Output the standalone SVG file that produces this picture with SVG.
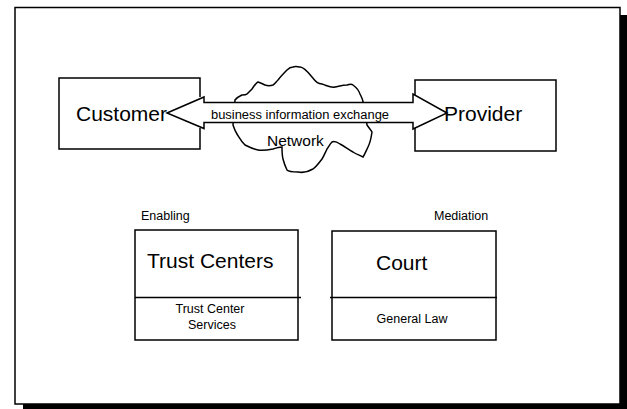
<svg xmlns="http://www.w3.org/2000/svg" width="627" height="409" viewBox="0 0 627 409">
  <style>
    .box { fill: #ffffff; stroke: #000000; stroke-width: 1.5; }
    .line { fill: none; stroke: #000000; stroke-width: 1.5; }
    .t { font-family: "Liberation Sans", Arial, sans-serif; fill: #000000; }
    .big { font-size: 21px; }
    .mid { font-size: 15.5px; }
    .small { font-size: 12.5px; }
  </style>

  <!-- page frame with drop shadow -->
  <g id="frame">
    <rect x="23" y="15" width="604" height="394" fill="#000000"/>
    <rect x="15" y="7.5" width="605" height="396.5" class="box"/>
  </g>

  <!-- network cloud -->
  <g id="network">
    <path class="box" d="M300,67 C304,67 308,72 312,77 C316,82 318,84 322,84 C328,86 331,88 335,87 C340,86 343,85 347,85 C350,84 352,84 353,85 C357,88 359,91 360,94 C362,98 363,100 363,102 L367,125 C369,128 371,130 372,132 C371,139 370,143 368,147 C366,151 365,154 363,157 C359,155 356,154 353,152 C348,149 344,146 340,144 C337,142 334,141 332,142 C330,144 329,146 327,149 C325,153 324,156 322,159 C319,163 316,167 313,169 C308,172 303,173 298,172 C293,172 289,172 287,170 C285,166 284,163 283,159 C282,155 282,151 282,147 C279,147 276,148 273,149 C268,150 263,151 258,150 C253,149 249,147 245,145 C241,141 239,137 237,134 C235,131 234,128 233,125 L235,100 C237,97 240,96 242,95 C244,95 246,95 247,94 C249,92 250,91 252,89 C254,86 256,83 258,82 C261,83 263,84 265,85 C268,86 270,86 273,85 C275,84 276,82 278,80 C281,76 284,73 287,70 C289,68 291,67 293,67 C296,66 298,67 300,67 Z"/>
    <text class="t mid" x="267" y="146">Network</text>
  </g>

  <!-- business information exchange (double arrow) -->
  <g id="connectors">
    <path class="box" d="M167,113 L204,97 L204,102.5 L413,102.5 L413,94 L447,113 L413,129 L413,122.5 L204,122.5 L204,128.5 Z"/>
    <text class="t small" x="211" y="119" textLength="178" lengthAdjust="spacingAndGlyphs">business information exchange</text>
  </g>

  <!-- customer -->
  <g id="customer">
    <path class="line" d="M200,97 L200,78 L59,78 L59,149 L200,149 L200,128"/>
    <text class="t big" x="76" y="121">Customer</text>
  </g>

  <!-- provider -->
  <g id="provider">
    <path class="line" d="M415,95 L415,80 L556,80 L556,151 L415,151 L415,128"/>
    <text class="t big" x="444" y="121">Provider</text>
  </g>

  <!-- trust centers -->
  <g id="trust-centers">
    <text class="t small" x="141" y="220">Enabling</text>
    <rect class="box" x="135" y="230" width="163" height="110"/>
    <line class="line" x1="135" y1="297.5" x2="301" y2="297.5"/>
    <text class="t big" x="147" y="268">Trust Centers</text>
    <text class="t small" x="210" y="313" text-anchor="middle">Trust Center</text>
    <text class="t small" x="212" y="329" text-anchor="middle">Services</text>
  </g>

  <!-- court -->
  <g id="court">
    <text class="t small" x="434" y="220">Mediation</text>
    <rect class="box" x="332" y="231" width="164" height="109"/>
    <line class="line" x1="330" y1="297.5" x2="497" y2="297.5"/>
    <text class="t big" x="376" y="270">Court</text>
    <text class="t small" x="412" y="323" text-anchor="middle">General Law</text>
  </g>
</svg>
